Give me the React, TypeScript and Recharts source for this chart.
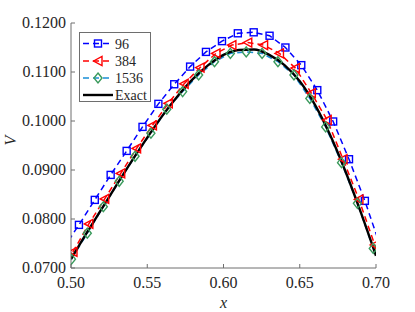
import { LineChart, Line, XAxis, YAxis } from 'recharts';

const X_TICKS = [0.5, 0.55, 0.6, 0.65, 0.7];
const Y_TICKS = [0.07, 0.08, 0.09, 0.1, 0.11, 0.12];

// cell centres shown as markers (first/last points sit just outside the axes)
const X_96 = [0.4948, 0.5052, 0.5156, 0.526, 0.5365, 0.5469, 0.5573, 0.5677, 0.5781, 0.5885, 0.599, 0.6094, 0.6198, 0.6302, 0.6406, 0.651, 0.6615, 0.6719, 0.6823, 0.6927, 0.7031];
const V_96 = [0.0739, 0.0788, 0.0839, 0.089, 0.0939, 0.0988, 0.1035, 0.1075, 0.1111, 0.1141, 0.1163, 0.1179, 0.1181, 0.1174, 0.115, 0.1114, 0.1063, 0.0999, 0.0922, 0.0837, 0.0742];

const X_384 = [0.4909, 0.5013, 0.5117, 0.5221, 0.5326, 0.543, 0.5534, 0.5638, 0.5742, 0.5846, 0.5951, 0.6055, 0.6159, 0.6263, 0.6367, 0.6471, 0.6576, 0.668, 0.6784, 0.6888, 0.6992, 0.7096];
const V_384 = [0.068, 0.0733, 0.079, 0.0841, 0.0893, 0.0944, 0.0991, 0.1036, 0.1076, 0.1109, 0.1138, 0.1155, 0.116, 0.1155, 0.1138, 0.1108, 0.1057, 0.1002, 0.0922, 0.084, 0.0747, 0.065];

const X_1536 = [0.5003, 0.5107, 0.5212, 0.5316, 0.542, 0.5524, 0.5628, 0.5732, 0.5837, 0.5941, 0.6045, 0.6149, 0.6253, 0.6357, 0.6462, 0.6566, 0.667, 0.6774, 0.6878, 0.6982];
const V_1536 = [0.0718, 0.0771, 0.0825, 0.0877, 0.0928, 0.0975, 0.1024, 0.106, 0.1094, 0.1121, 0.1138, 0.1141, 0.1138, 0.1121, 0.1094, 0.1046, 0.0988, 0.0915, 0.0832, 0.074];

const X_EXACT = [0.5, 0.51, 0.52, 0.53, 0.54, 0.55, 0.56, 0.57, 0.58, 0.59, 0.6, 0.61, 0.62, 0.63, 0.64, 0.65, 0.66, 0.67, 0.68, 0.69, 0.7];
const V_EXACT = [0.0718, 0.077, 0.082, 0.087, 0.0919, 0.0966, 0.1011, 0.1051, 0.1086, 0.1114, 0.1135, 0.1145, 0.1146, 0.1135, 0.1114, 0.1081, 0.1033, 0.0971, 0.0897, 0.0814, 0.0725];

const rows = (xs: number[], vs: number[]) => xs.map((x, i) => ({ x, v: vs[i] }));

const AXIS = '#6e6e6e';
const TEXT = '#262626';
const FONT = '"Liberation Serif", "Times New Roman", serif';

type Kind = 'square' | 'triangle' | 'diamond' | 'none';

const SERIES = [
  { name: '96', data: rows(X_96, V_96), color: '#0000ff', dash: '6 4', width: 1.5, marker: 'square' as Kind, markerColor: '#0000ff', type: 'linear' },
  { name: '384', data: rows(X_384, V_384), color: '#ff0000', dash: '6 4', width: 1.5, marker: 'triangle' as Kind, markerColor: '#ff0000', type: 'linear' },
  { name: '1536', data: rows(X_1536, V_1536), color: '#1a8fd6', dash: '6 4', width: 1.5, marker: 'diamond' as Kind, markerColor: '#3a9a5c', type: 'linear' },
  { name: 'Exact', data: rows(X_EXACT, V_EXACT), color: '#000000', dash: undefined, width: 2.4, marker: 'none' as Kind, markerColor: '#000000', type: 'monotone' },
];

function Marker({ kind, cx, cy, color }: { kind: Kind; cx: number; cy: number; color: string }) {
  const common = { fill: 'none', stroke: color, strokeWidth: 1.4 };
  if (kind === 'square') return <rect x={cx - 3.5} y={cy - 3.5} width={7} height={7} {...common} />;
  if (kind === 'triangle')
    return <polygon points={`${cx - 4.5},${cy} ${cx + 4},${cy - 4.5} ${cx + 4},${cy + 4.5}`} {...common} />;
  if (kind === 'diamond')
    return <polygon points={`${cx},${cy - 5} ${cx + 4},${cy} ${cx},${cy + 5} ${cx - 4},${cy}`} {...common} />;
  return null;
}

const BottomTick = ({ x, y, payload }: any) => (
  <g>
    <line x1={x} y1={y} x2={x} y2={y - 4} stroke={AXIS} />
    <text x={x} y={y + 20} textAnchor="middle" fontFamily={FONT} fontSize={16} fill={TEXT}>
      {Number(payload.value).toFixed(2)}
    </text>
  </g>
);

const TopTick = ({ x, y }: any) => <line x1={x} y1={y} x2={x} y2={y + 4} stroke={AXIS} />;

const LeftTick = ({ x, y, payload }: any) => (
  <g>
    <line x1={x} y1={y} x2={x + 4} y2={y} stroke={AXIS} />
    <text x={x - 5} y={y + 5} textAnchor="end" fontFamily={FONT} fontSize={16} fill={TEXT}>
      {Number(payload.value).toFixed(4)}
    </text>
  </g>
);

const RightTick = ({ x, y }: any) => <line x1={x} y1={y} x2={x - 4} y2={y} stroke={AXIS} />;

function LegendBox() {
  const rowY = [10.5, 28, 45, 62];
  return (
    <svg
      width={72}
      height={70}
      style={{ position: 'absolute', left: 79, top: 32, background: '#fff', border: `1px solid ${AXIS}`, boxSizing: 'border-box' }}
    >
      {SERIES.map((s, i) => (
        <g key={s.name}>
          <line x1={3} x2={33} y1={rowY[i]} y2={rowY[i]} stroke={s.color} strokeWidth={s.width} strokeDasharray={s.dash} />
          <Marker kind={s.marker} cx={18} cy={rowY[i]} color={s.markerColor} />
          <text x={35} y={rowY[i] + 5} fontFamily={FONT} fontSize={14} fill={TEXT}>
            {s.name}
          </text>
        </g>
      ))}
    </svg>
  );
}

export default function App() {
  return (
    <div style={{ position: 'absolute', left: 0, top: 0, width: 415, height: 312, background: '#fff' }}>
      <LineChart width={415} height={312} margin={{ top: 23, right: 39, left: 0, bottom: 0 }}>
        <XAxis
          xAxisId="bottom"
          dataKey="x"
          type="number"
          domain={[0.5, 0.7]}
          ticks={X_TICKS}
          interval={0}
          allowDataOverflow
          height={44}
          tickSize={0}
          tickMargin={0}
          stroke={AXIS}
          tick={BottomTick}
          label={{ value: 'x', position: 'insideBottom', offset: 4, fontFamily: FONT, fontSize: 16, fontStyle: 'italic', fill: TEXT }}
        />
        <XAxis
          xAxisId="top"
          orientation="top"
          dataKey="x"
          type="number"
          domain={[0.5, 0.7]}
          ticks={X_TICKS}
          interval={0}
          allowDataOverflow
          height={0}
          tickSize={0}
          tickMargin={0}
          stroke={AXIS}
          tick={TopTick}
        />
        <YAxis
          yAxisId="left"
          type="number"
          domain={[0.07, 0.12]}
          ticks={Y_TICKS}
          interval={0}
          allowDataOverflow
          width={71}
          tickSize={0}
          tickMargin={0}
          stroke={AXIS}
          tick={LeftTick}
          label={{ value: 'V', angle: -90, position: 'insideLeft', offset: 10, fontFamily: FONT, fontSize: 16, fontStyle: 'italic', fill: TEXT }}
        />
        <YAxis
          yAxisId="right"
          orientation="right"
          type="number"
          domain={[0.07, 0.12]}
          ticks={Y_TICKS}
          interval={0}
          allowDataOverflow
          width={0}
          tickSize={0}
          tickMargin={0}
          stroke={AXIS}
          tick={RightTick}
        />
        {SERIES.map((s) => (
          <Line
            key={s.name}
            name={s.name}
            data={s.data}
            dataKey="v"
            xAxisId="bottom"
            yAxisId="left"
            type={s.type as any}
            stroke={s.color}
            strokeWidth={s.width}
            strokeDasharray={s.dash}
            isAnimationActive={false}
            activeDot={false}
            dot={(p: any) =>
              s.marker === 'none' || p.payload.x < 0.5 || p.payload.x > 0.7 ? (
                <g key={`${s.name}-${p.index}`} />
              ) : (
                <Marker key={`${s.name}-${p.index}`} kind={s.marker} cx={p.cx} cy={p.cy} color={s.markerColor} />
              )
            }
          />
        ))}
      </LineChart>
      <LegendBox />
    </div>
  );
}
